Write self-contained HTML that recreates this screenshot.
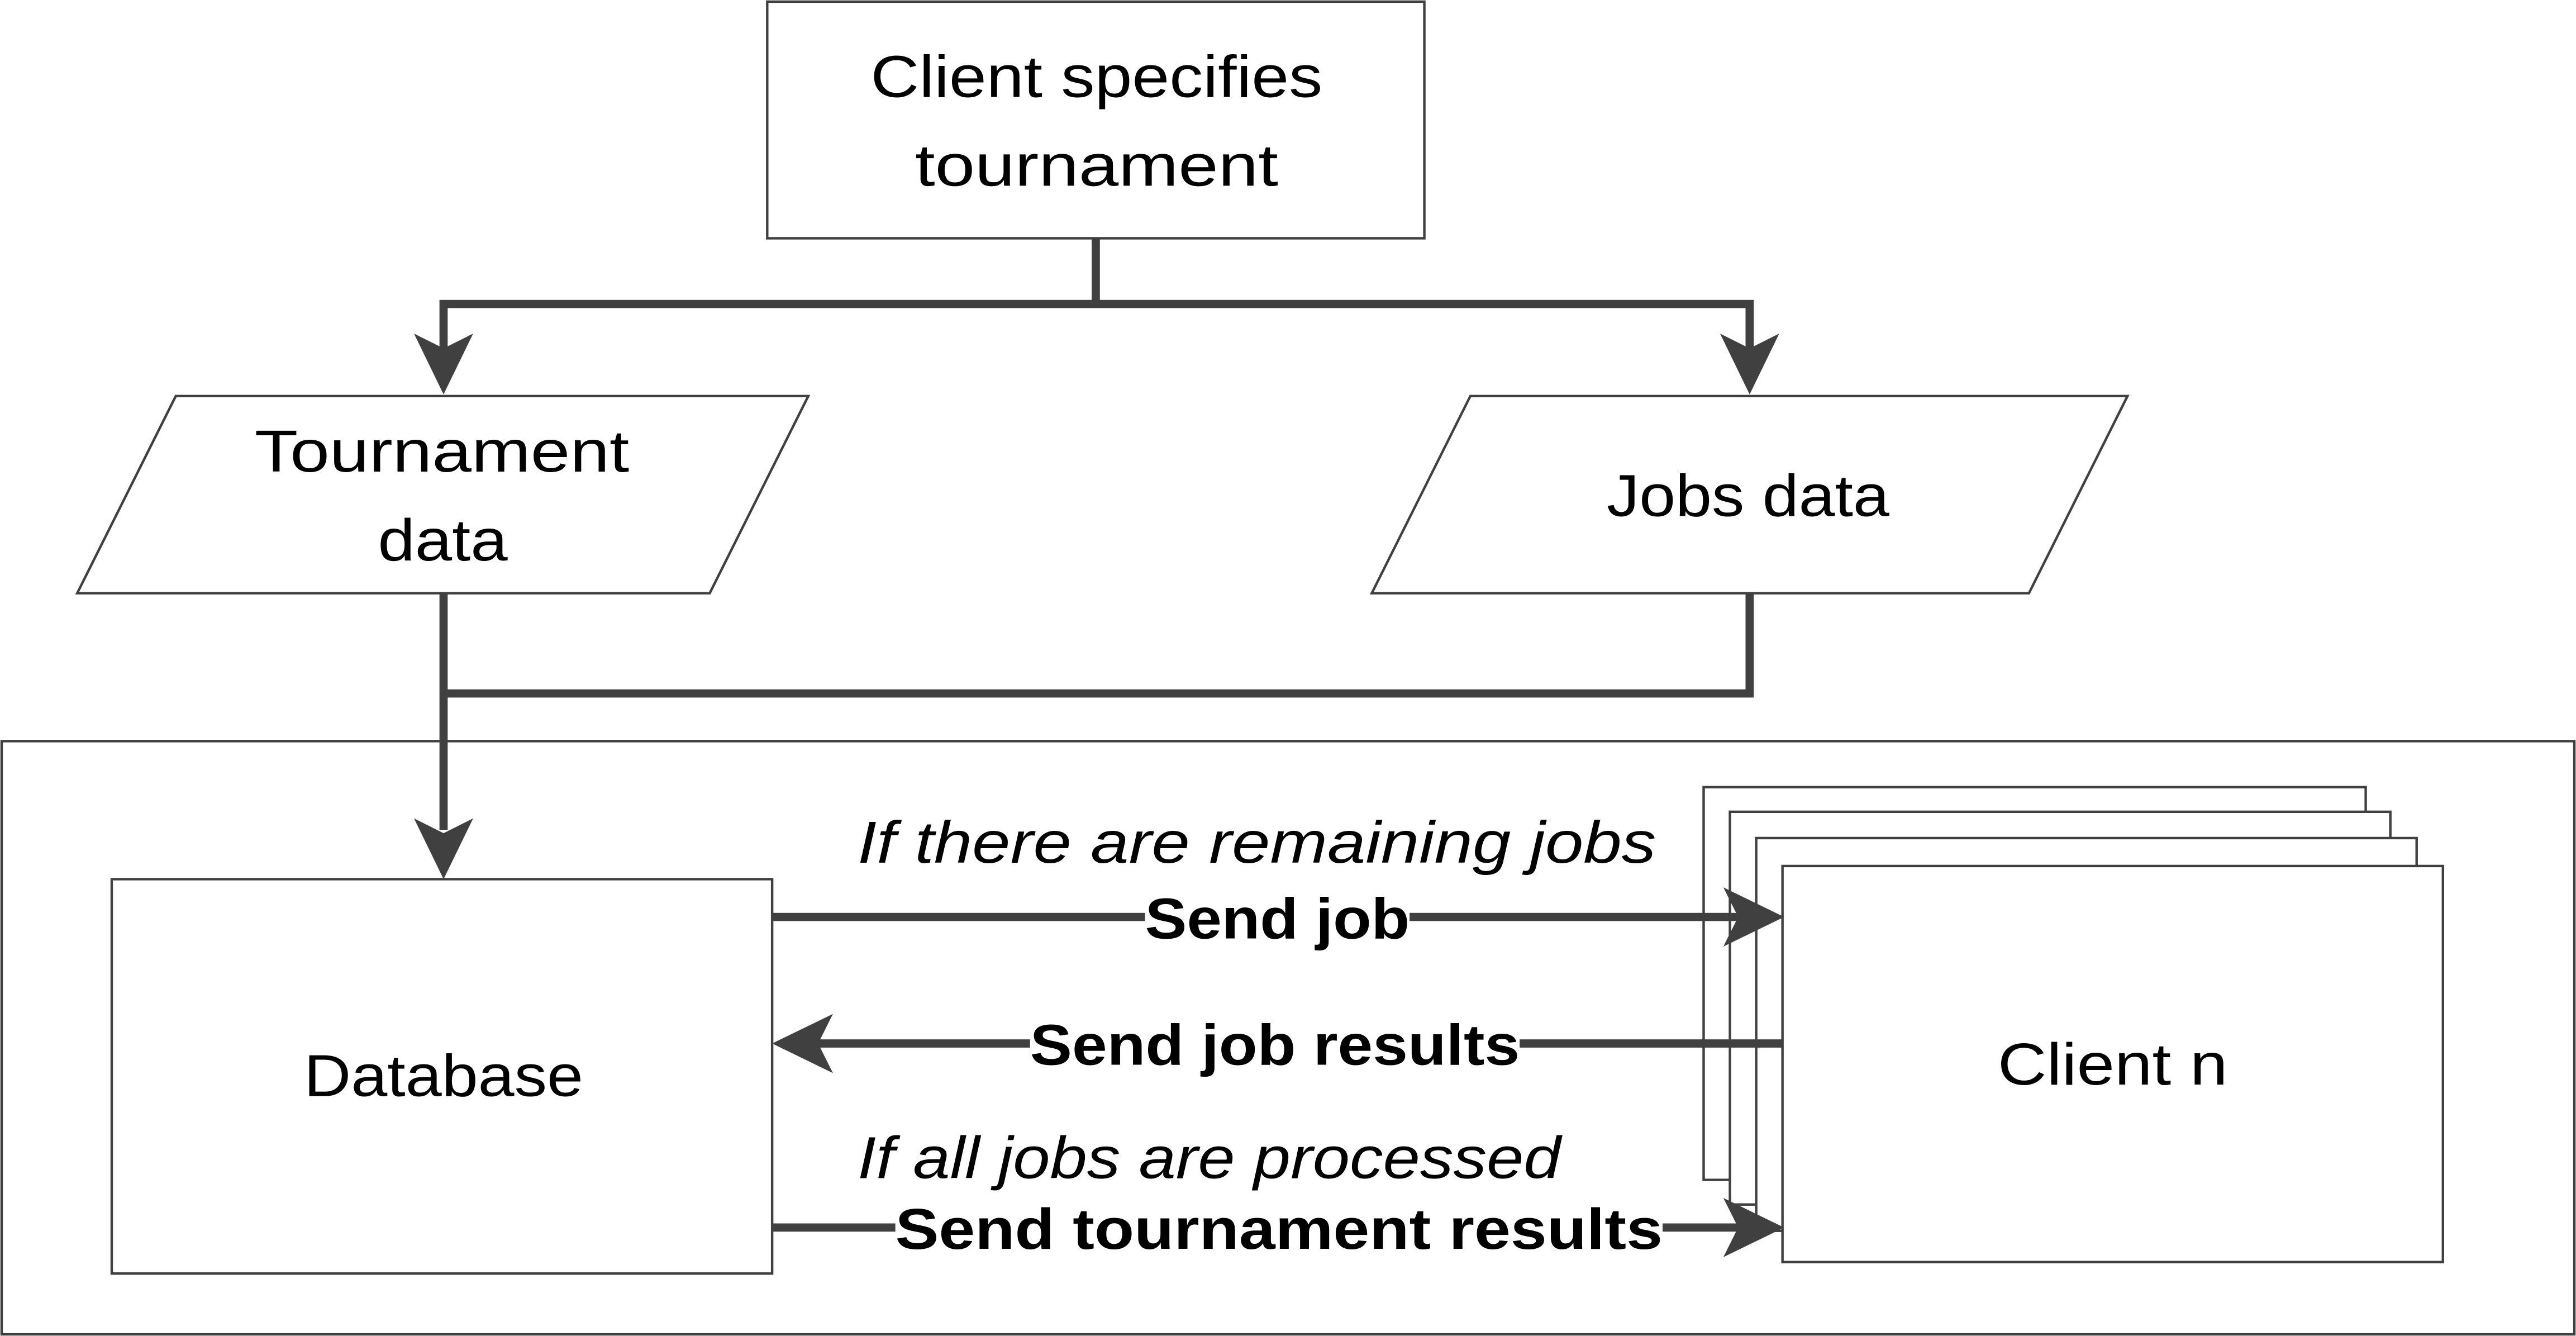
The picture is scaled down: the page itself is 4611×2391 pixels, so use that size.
<!DOCTYPE html>
<html><head><meta charset="utf-8"><style>
html,body{margin:0;padding:0;background:#fff;}
svg{display:block;}
text{font-family:"Liberation Sans",sans-serif;fill:#000;}
</style></head><body>
<svg width="4611" height="2391" viewBox="0 0 1568 813" preserveAspectRatio="none" xmlns="http://www.w3.org/2000/svg">
<g fill="#fff" stroke="#404040" stroke-width="1.5">
<rect x="467" y="1" width="400" height="144"/>
<polygon points="107,241 492,241 432,361 47,361"/>
<polygon points="895,241 1295,241 1235,361 835,361"/>
<rect x="1" y="451" width="1566" height="361"/>
<rect x="68" y="535" width="402" height="240"/>
<rect x="1037" y="479" width="403" height="239"/>
<rect x="1053" y="494" width="402" height="239"/>
<rect x="1069" y="510" width="402" height="239"/>
<rect x="1085" y="527" width="402" height="241"/>
</g>
<g stroke="#404040" stroke-width="5" fill="none">
<polyline points="667,145 667,185"/>
<polyline points="270,215 270,185 1065,185 1065,215"/>
<polyline points="270,361 270,505"/>
<polyline points="1065,361 1065,422 270,422"/>
<line x1="470" y1="558" x2="1060" y2="558"/>
<line x1="1085" y1="635" x2="495" y2="635"/>
<line x1="470" y1="747" x2="1060" y2="747"/>
</g>
<g fill="#404040">
<polygon points="270,240 252,203 270,212 288,203"/>
<polygon points="1065,240 1047,203 1065,212 1083,203"/>
<polygon points="270,535 252,498 270,507 288,498"/>
<polygon points="1086,558 1049,540 1058,558 1049,576"/>
<polygon points="470,635 507,617 498,635 507,653"/>
<polygon points="1086,747 1049,729 1058,747 1049,765"/>
</g>
<g font-size="36" lengthAdjust="spacingAndGlyphs">
<text x="530" y="59" textLength="275" lengthAdjust="spacingAndGlyphs">Client specifies</text>
<text x="557" y="113" textLength="221" lengthAdjust="spacingAndGlyphs">tournament</text>
<text x="155" y="287" textLength="228" lengthAdjust="spacingAndGlyphs">Tournament</text>
<text x="230" y="341" textLength="79" lengthAdjust="spacingAndGlyphs">data</text>
<text x="978" y="314" textLength="172" lengthAdjust="spacingAndGlyphs">Jobs data</text>
<text x="185" y="667" textLength="170" lengthAdjust="spacingAndGlyphs">Database</text>
<text x="1216" y="660" textLength="140" lengthAdjust="spacingAndGlyphs">Client n</text>
</g>
<g font-size="36" font-style="italic">
<text x="522" y="525" textLength="486" lengthAdjust="spacingAndGlyphs">If there are remaining jobs</text>
<text x="522" y="717" textLength="428" lengthAdjust="spacingAndGlyphs">If all jobs are processed</text>
</g>
<g font-size="35" font-weight="bold">
<rect x="697" y="538" width="161" height="42" fill="#fff"/>
<text x="697" y="571" textLength="161" lengthAdjust="spacingAndGlyphs">Send job</text>
<rect x="627" y="615" width="298" height="42" fill="#fff"/>
<text x="627" y="648" textLength="298" lengthAdjust="spacingAndGlyphs">Send job results</text>
<rect x="545" y="727" width="467" height="42" fill="#fff"/>
<text x="545" y="760" textLength="467" lengthAdjust="spacingAndGlyphs">Send tournament results</text>
</g>
</svg>
</body></html>
